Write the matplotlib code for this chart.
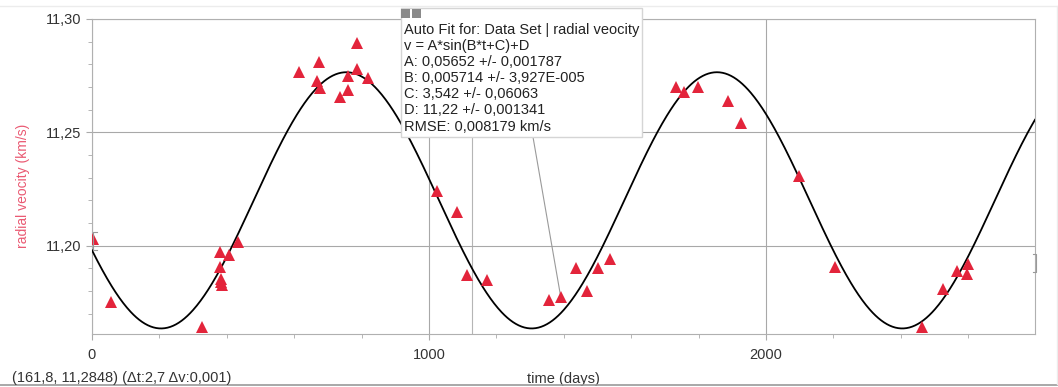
import numpy as np
import matplotlib
matplotlib.use('Agg')
import matplotlib.pyplot as plt
from matplotlib.ticker import MultipleLocator, FuncFormatter
from matplotlib.lines import Line2D
from matplotlib.patches import Rectangle

plt.rcParams['font.family'] = ['Liberation Sans', 'DejaVu Sans']

# measured points (time in days, radial velocity in km/s)
t_days = [4, 55, 327, 380, 407, 380, 382, 383, 385, 432,
          615, 675, 669, 677, 736, 760, 760, 785, 785, 820,
          1023, 1082, 1114, 1171, 1356, 1391, 1435, 1468, 1502, 1537,
          1732, 1758, 1797, 1886, 1926,
          2098, 2205, 2462, 2524, 2566, 2600, 2595]
v_kms = [11.2028, 11.1750, 11.1642, 11.1972, 11.1959, 11.1907, 11.1853, 11.1838, 11.1826, 11.2018,
         11.2767, 11.2810, 11.2728, 11.2695, 11.2657, 11.2748, 11.2688, 11.2895, 11.2779, 11.2738,
         11.2240, 11.2150, 11.1871, 11.1850, 11.1760, 11.1772, 11.1902, 11.1798, 11.1902, 11.1941,
         11.2698, 11.2679, 11.2698, 11.2640, 11.2540,
         11.2309, 11.1907, 11.1643, 11.1809, 11.1890, 11.1919, 11.1875]

# auto fit parameters  v = A*sin(B*t+C)+D
fit_A, fit_B, fit_C, fit_D = 0.05652, 0.005714, 3.542, 11.22
fit_lines = ['Auto Fit for: Data Set | radial veocity',
             'v = A*sin(B*t+C)+D',
             'A: 0,05652 +/- 0,001787',
             'B: 0,005714 +/- 3,927E-005',
             'C: 3,542 +/- 0,06063',
             'D: 11,22 +/- 0,001341',
             'RMSE: 0,008179 km/s']
cursor_t = 1127
picked = 25  # point the fit box points at
status_txt = '(161,8, 11,2848) (\u0394t:2,7 \u0394v:0,001)'

W, H = 1058, 387
def px(x, y):
    return (x / W, 1 - y / H)

fig = plt.figure(figsize=(W / 100, H / 100), dpi=100)
ax = fig.add_axes([92 / W, 1 - 334.3 / H, 943 / W, 315.3 / H])

tt = np.linspace(0, 2798, 1000)
ax.plot(tt, fit_A * np.sin(fit_B * tt + fit_C) + fit_D, color='black', lw=1.3, zorder=3)
ax.plot(t_days, v_kms, '^', color='#e3243b', ms=8.5, mew=0, zorder=4)
ax.axvline(cursor_t, color='#b5b5b5', lw=0.8, zorder=1)

ax.set_xlim(0, 2798)
ax.set_ylim(11.1609, 11.30)
ax.xaxis.set_major_locator(MultipleLocator(1000))
ax.xaxis.set_minor_locator(MultipleLocator(200))
ax.yaxis.set_major_locator(MultipleLocator(0.05))
ax.yaxis.set_minor_locator(MultipleLocator(0.01))
ax.xaxis.set_major_formatter(FuncFormatter(lambda v, p: '%d' % round(v)))
ax.yaxis.set_major_formatter(FuncFormatter(lambda v, p: ('%.2f' % v).replace('.', ',')))
ax.grid(which='major', color='#a8a8a8', lw=0.8)
for s in ax.spines.values():
    s.set_color('#b0b0b0')
    s.set_linewidth(0.8)
ax.tick_params(which='both', direction='out', color='#aaaaaa', labelsize=10.5, labelcolor='#333333')
ax.tick_params(which='major', length=4)
ax.tick_params(which='minor', length=3)
ax.tick_params(axis='x', pad=6)

ax.set_ylabel('radial veocity (km/s)', color='#ea5a73', fontsize=10)
ax.yaxis.set_label_coords(-0.0655, 0.47)
ax.set_xlabel('time (days)', color='#333333', fontsize=10.5)
ax.xaxis.set_label_coords(0.4995, -0.12)

# leader line from fit box to the picked point
ax.annotate('', xy=(t_days[picked], v_kms[picked]), xycoords='data',
            xytext=px(533, 137), textcoords='figure fraction',
            arrowprops=dict(arrowstyle='-', color='#9a9a9a', lw=0.8, shrinkA=0, shrinkB=0))

# fit box
x0, y0 = px(400.7, 136.7)
fig.add_artist(Rectangle((x0, y0), 241 / W, 128.4 / H, transform=fig.transFigure,
                         facecolor='white', edgecolor='#d5d5d5', lw=1, zorder=5))
for k in range(2):
    hx, hy = px(401 + k * 10.8, 18.3)
    fig.add_artist(Rectangle((hx, hy), 9 / W, 9.3 / H, transform=fig.transFigure,
                             facecolor='#8a8a8a', edgecolor='none', zorder=6))
for i, line in enumerate(fit_lines):
    fx, fy = px(404.5, 30 + i * 16.1)
    fig.text(fx, fy, line, fontsize=10.5, color='#222222', va='center', ha='left', zorder=6)

# small range brackets
def bracket(xa, ya, yb, d):
    pts = [(xa + d, ya), (xa, ya), (xa, yb), (xa + d, yb)]
    xs = [p[0] / W for p in pts]
    ys = [1 - p[1] / H for p in pts]
    fig.add_artist(Line2D(xs, ys, color='#999999', lw=0.8, transform=fig.transFigure, zorder=6))
bracket(93, 232, 250, 4)
bracket(1036, 254, 272, -3)

fig.text(*px(12, 378), status_txt, fontsize=10.5, color='#333333', va='center', ha='left')

# outer panel border
fig.add_artist(Line2D([0, 1], [1 - 385 / H] * 2, color='#9a9a9a', lw=1.2, transform=fig.transFigure))
fig.add_artist(Line2D([0, 1057 / W], [1 - 6 / H] * 2, color='#ececec', lw=1, transform=fig.transFigure))
fig.add_artist(Line2D([1057 / W] * 2, [1 - 6 / H, 1 - 384 / H], color='#ececec', lw=1, transform=fig.transFigure))

fig.savefig('out.png', dpi=100)
